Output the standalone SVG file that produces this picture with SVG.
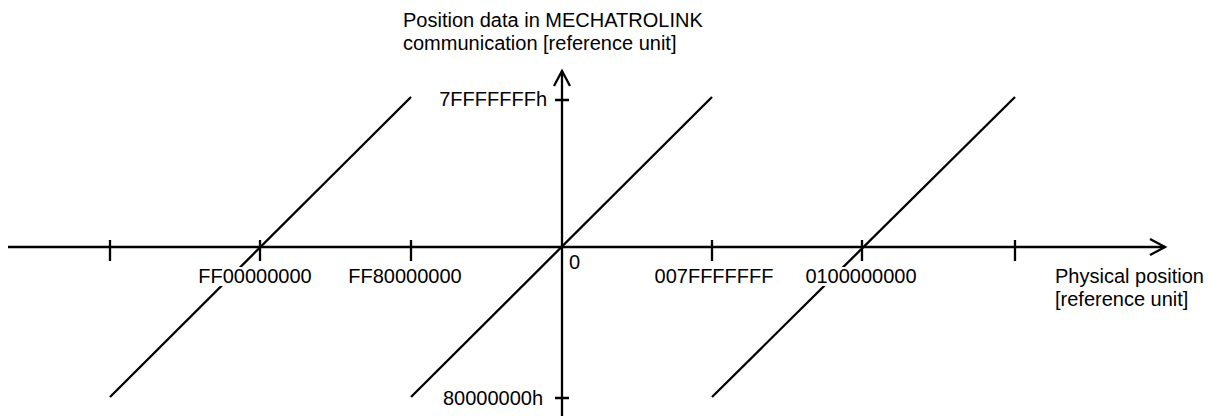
<svg xmlns="http://www.w3.org/2000/svg" width="1208" height="416" viewBox="0 0 1208 416">
<style>
.ax{stroke:#000;stroke-width:2.3;fill:none}
.ln{stroke:#000;stroke-width:2.3;fill:none}
.bg{fill:#fff}
text{font-family:"Liberation Sans",Arial,sans-serif;font-size:20px;fill:#000}
</style>
<rect width="1208" height="416" fill="#fff"/>
<g id="connectors">
<path class="ax" d="M8 247H1165"/>
<path class="ax" d="M1150 239L1165 247L1150 255"/>
<path class="ax" d="M562 416V71"/>
<path class="ax" d="M554 86L562 71L570 86"/>
<path class="ax" d="M110 240V261M260 240V261M411 240V261M712 240V261M862 240V261M1015 240V261"/>
<path class="ax" d="M555 100H569M555 398H569"/>
<path class="ln" d="M110 397L411 97"/>
<path class="ln" d="M411 397L712 97"/>
<path class="ln" d="M712 397L1015 97"/>
</g>
<g id="labels">
<text x="403" y="27">Position data in MECHATROLINK</text>
<text x="403" y="50">communication [reference unit]</text>
<text x="547" y="106" text-anchor="end">7FFFFFFFh</text>
<text x="543" y="405" text-anchor="end">80000000h</text>
<text x="569" y="269">0</text>
<rect class="bg" x="197" y="267" width="116" height="19"/>
<text x="255" y="283" text-anchor="middle">FF00000000</text>
<text x="405" y="283" text-anchor="middle">FF80000000</text>
<text x="714" y="283" text-anchor="middle">007FFFFFFF</text>
<rect class="bg" x="803" y="267" width="116" height="19"/>
<text x="861" y="283" text-anchor="middle">0100000000</text>
<text x="1055" y="283">Physical position</text>
<text x="1055" y="306">[reference unit]</text>
</g>
</svg>
